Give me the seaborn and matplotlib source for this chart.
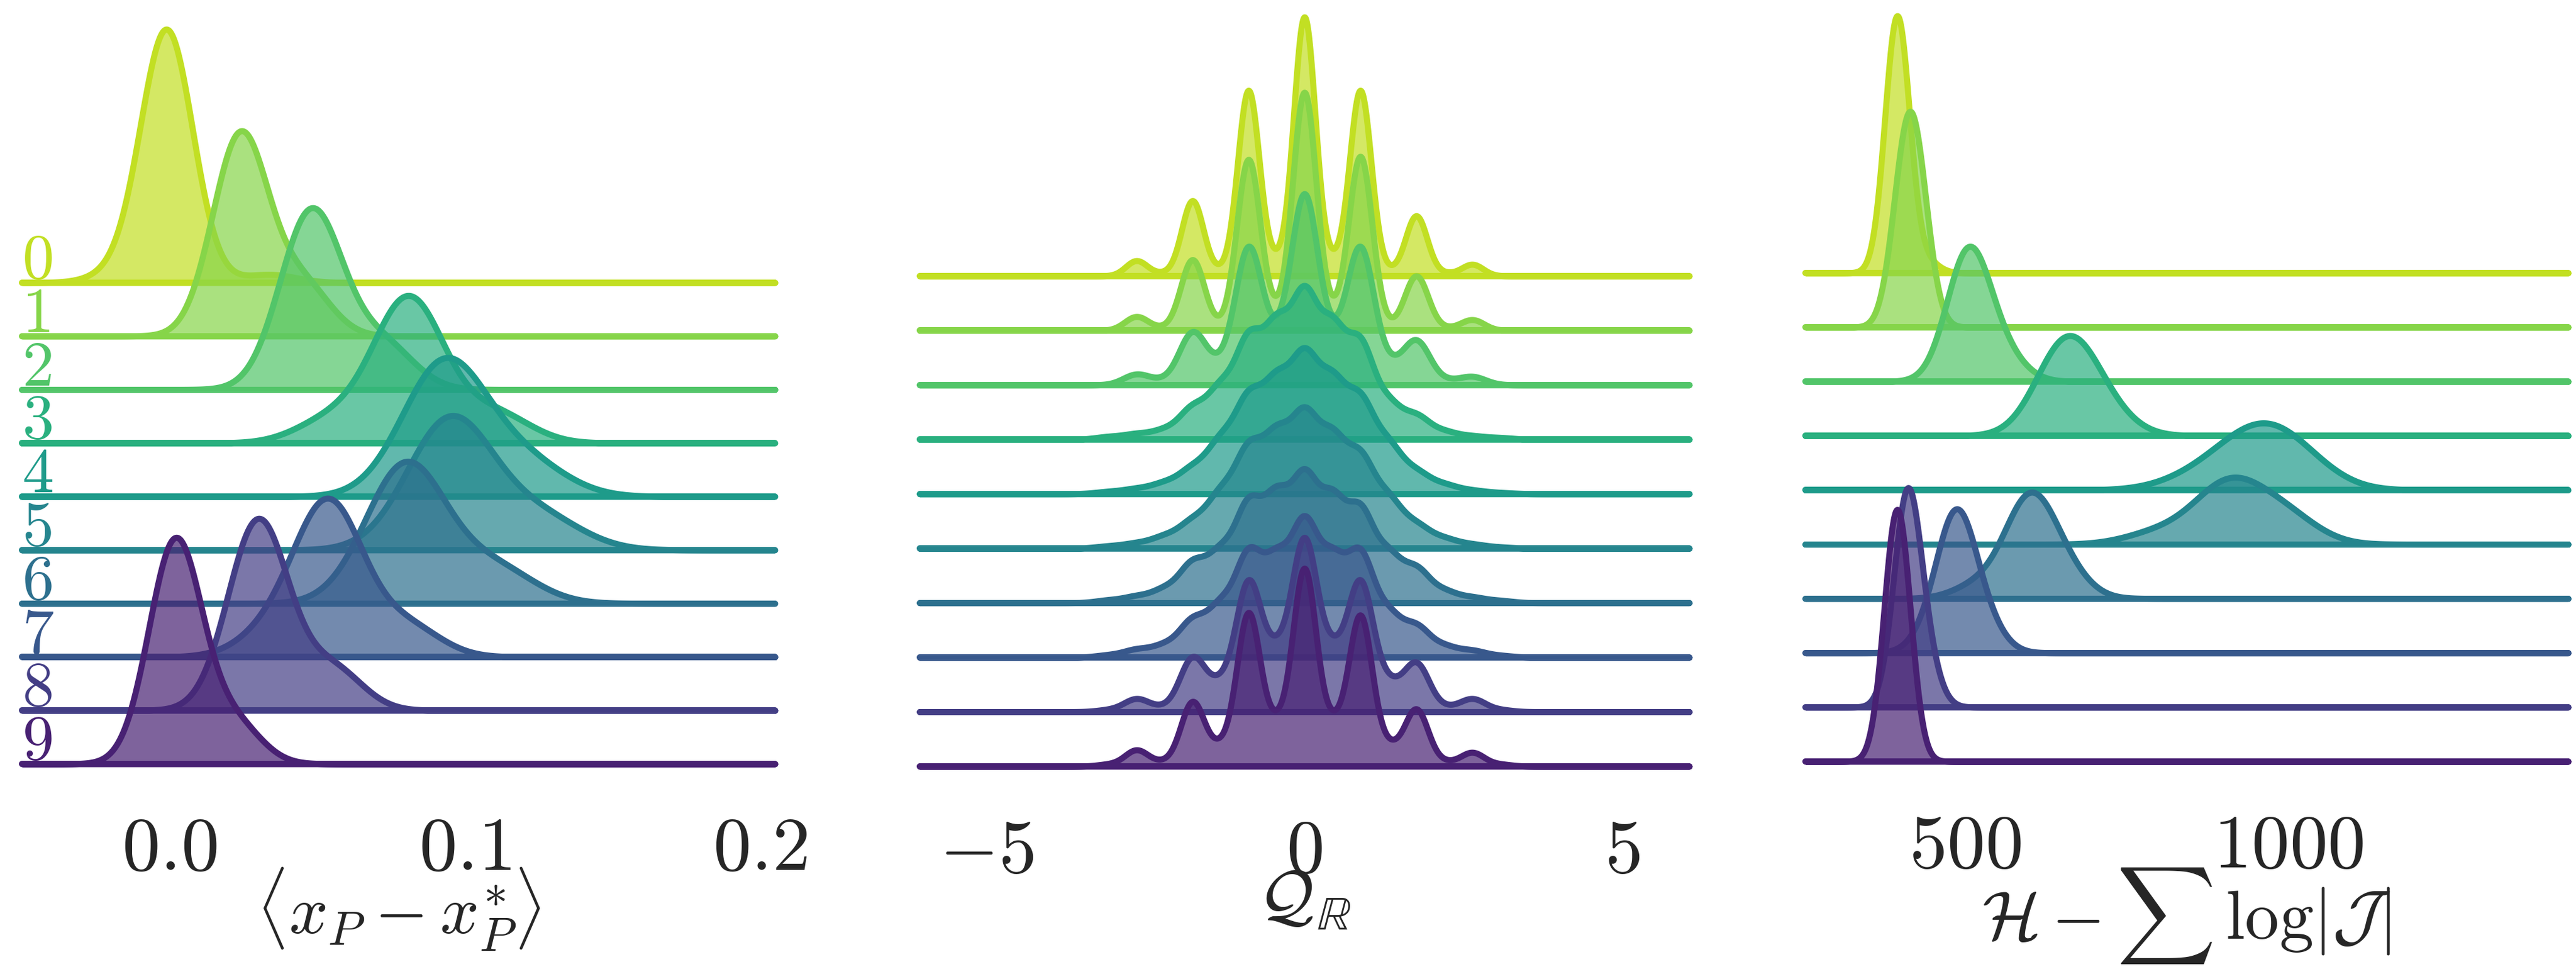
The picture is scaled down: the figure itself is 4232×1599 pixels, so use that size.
import numpy as np
import pandas as pd
import matplotlib
matplotlib.use("Agg")
import matplotlib.pyplot as plt
import seaborn as sns

# ---------------------------------------------------------------
# DATA (kernel centres, weights, widths)
# ---------------------------------------------------------------
ROW_LABELS = ["0", "1", "2", "3", "4", "5", "6", "7", "8", "9"]

# panel 1 : <x_P - x_P^*>
P1_CENTERS = [
    [-0.018, -0.001, 0.034],
    [0.024, 0.045],
    [0.048, 0.072],
    [0.055, 0.081, 0.110],
    [0.093, 0.120],
    [0.095, 0.125],
    [0.080, 0.110],
    [0.035, 0.054, 0.080],
    [0.030, 0.055],
    [0.002, 0.022],
]
P1_WEIGHTS = [
    [0.03, 0.94, 0.03],
    [0.80, 0.20],
    [0.80, 0.20],
    [0.12, 0.73, 0.15],
    [0.80, 0.20],
    [0.80, 0.20],
    [0.80, 0.20],
    [0.12, 0.73, 0.15],
    [0.82, 0.18],
    [0.85, 0.15],
]
P1_SIGMA = [0.0088, 0.0094, 0.0106, 0.0120, 0.0142, 0.0145, 0.0136, 0.0115, 0.0102, 0.0090]
P1_XLIM = (-0.05, 0.205)
P1_TICKS = [0.0, 0.1, 0.2]
P1_TICKLABELS = ["$0.0$", "$0.1$", "$0.2$"]
P1_XLABEL = r"$\langle x_P - x_P^{*} \rangle$"

# panel 2 : Q_R  (weights on a fixed grid of positions)
P2_GRID = [-3.08, -2.64, -2.20, -1.76, -1.32, -0.88, -0.44, 0.0,
           0.44, 0.88, 1.32, 1.76, 2.20, 2.64, 3.08]
P2_WEIGHTS = [
    [0, 25, 4, 124, 7, 306, 20, 427, 20, 306, 7, 99, 4, 19, 0],
    [0, 22, 3, 113, 4, 273, 18, 380, 18, 278, 4, 87, 3, 17, 0],
    [0, 18, 6, 88, 27, 229, 60, 316, 60, 229, 27, 74, 6, 14, 0],
    [5, 10, 17, 58, 92, 182, 200, 260, 196, 174, 64, 43, 14, 6, 3],
    [4, 9, 19, 45, 92, 168, 190, 238, 190, 164, 85, 38, 16, 6, 2],
    [4, 9, 21, 48, 95, 175, 192, 231, 188, 160, 86, 41, 17, 7, 2],
    [5, 12, 25, 74, 90, 180, 188, 226, 183, 168, 86, 63, 21, 10, 4],
    [4, 14, 21, 66, 88, 182, 165, 235, 165, 182, 74, 55, 19, 12, 3],
    [3, 21, 6, 87, 40, 207, 85, 273, 85, 207, 40, 78, 6, 21, 3],
    [3, 26, 6, 103, 28, 244, 59, 314, 59, 240, 28, 91, 6, 22, 3],
]
P2_SIGMA = [0.17, 0.185, 0.21, 0.21, 0.22, 0.22, 0.21, 0.21, 0.20, 0.185]
P2_XLIM = (-6.05, 6.05)
P2_TICKS = [-5, 0, 5]
P2_TICKLABELS = ["$-5$", "$0$", "$5$"]
P2_XLABEL = r"$\mathcal{Q}_{\mathbb{R}}$"

# panel 3 : H - sum log|J|
P3_CENTERS = [
    [395, 440],
    [405, 425],
    [505, 560],
    [655, 710],
    [865, 945, 1005],
    [800, 905, 990],
    [520, 598, 650],
    [450, 487, 530],
    [410, 440],
    [390, 400],
]
P3_WEIGHTS = [
    [0.96, 0.04],
    [0.50, 0.50],
    [0.85, 0.15],
    [0.80, 0.20],
    [0.15, 0.50, 0.35],
    [0.12, 0.58, 0.30],
    [0.10, 0.70, 0.20],
    [0.12, 0.73, 0.15],
    [0.85, 0.15],
    [0.50, 0.50],
]
P3_SIGMA = [19, 21, 33.5, 46, 60, 52, 38, 29.5, 21, 19.5]
P3_XLIM = (253, 1432)
P3_TICKS = [500, 1000]
P3_TICKLABELS = ["$500$", "$1000$"]
P3_XLABEL = r"$\mathcal{H} - \sum\, \log|\mathcal{J}|$"

# ---------------------------------------------------------------
# long table of kernels
# ---------------------------------------------------------------
recs = []
for r in range(10):
    for c, w in zip(P1_CENTERS[r], P1_WEIGHTS[r]):
        recs.append((0, r, c, w, P1_SIGMA[r]))
    for c, w in zip(P2_GRID, P2_WEIGHTS[r]):
        if w > 0:
            recs.append((1, r, c, w, P2_SIGMA[r]))
    for c, w in zip(P3_CENTERS[r], P3_WEIGHTS[r]):
        recs.append((2, r, c, w, P3_SIGMA[r]))
df = pd.DataFrame(recs, columns=["panel", "row", "x", "w", "sigma"])

XLIMS = [P1_XLIM, P2_XLIM, P3_XLIM]
TICKS = [P1_TICKS, P2_TICKS, P3_TICKS]
TICKLABELS = [P1_TICKLABELS, P2_TICKLABELS, P3_TICKLABELS]
XLABELS = [P1_XLABEL, P2_XLABEL, P3_XLABEL]

# ---------------------------------------------------------------
# layout (pixels of the 4232 x 1599 canvas)
# ---------------------------------------------------------------
W, H, DPI = 4232, 1599, 300
PANEL_LEFT = [36, 1511, 2966]
PANEL_RIGHT = [1273, 2775, 4219]
BASE_TOP = [464, 453, 448]
BASE_BOTTOM = [1254, 1258, 1250]
AXES_H = [416, 425, 422]
LABEL_TOP = 1422
LW = 10 * 72 / DPI

sns.set_theme(style="white", rc={"axes.facecolor": (1, 1, 1, 0)})
plt.rcParams["mathtext.fontset"] = "cm"
plt.rcParams["font.family"] = ["DejaVu Serif"]

palette = sns.color_palette("viridis", 10)[::-1]

fig = plt.figure(figsize=(W / DPI, H / DPI), dpi=DPI)
fig.patch.set_facecolor("white")

axes = [[None] * 10 for _ in range(3)]
for p in range(3):
    step = (BASE_BOTTOM[p] - BASE_TOP[p]) / 9
    for r in range(10):
        y_base = BASE_TOP[p] + r * step
        ax = fig.add_axes([PANEL_LEFT[p] / W, 1 - y_base / H,
                           (PANEL_RIGHT[p] - PANEL_LEFT[p]) / W, AXES_H[p] / H])
        axes[p][r] = ax
        sub = df[(df.panel == p) & (df.row == r)]
        sd = np.sqrt(np.cov(sub["x"].to_numpy(float), aweights=sub["w"].to_numpy(float)))
        bw = sub["sigma"].iloc[0] / sd
        col = palette[r]
        sns.kdeplot(data=sub, x="x", weights="w", bw_method=bw, ax=ax,
                    fill=True, color=col, alpha=0.7, linewidth=LW,
                    cut=1000, clip=XLIMS[p], gridsize=1500, clip_on=False)
        ax.axhline(0, color=col, lw=LW, solid_capstyle="round", clip_on=False, zorder=3)
        ax.set_xlim(*XLIMS[p])
        ax.set_xlabel("")
        ax.set_ylabel("")
        ax.set_yticks([])
        for s in ax.spines.values():
            s.set_visible(False)
        if r < 9:
            ax.set_xticks([])
        else:
            ax.set_xticks(TICKS[p], TICKLABELS[p])
            ax.tick_params(axis="x", length=0, pad=19, labelsize=30, colors="#262626")
            ax.set_xlabel(XLABELS[p], fontsize=27, color="#262626")
            ax.xaxis.set_label_coords(0.5, -(LABEL_TOP - y_base) / AXES_H[p])
            ax.xaxis.label.set_verticalalignment("top")
        if p == 0:
            ax.text(0.0, 7 / AXES_H[p], "$" + ROW_LABELS[r] + "$", transform=ax.transAxes,
                    ha="left", va="baseline", fontsize=25, color=col)

# shared y scale within each panel
for p in range(3):
    ymax = max(a.collections[0].get_paths()[0].vertices[:, 1].max() for a in axes[p])
    for a in axes[p]:
        a.set_ylim(0, ymax)

fig.savefig("out.png", dpi=DPI, facecolor="white")
